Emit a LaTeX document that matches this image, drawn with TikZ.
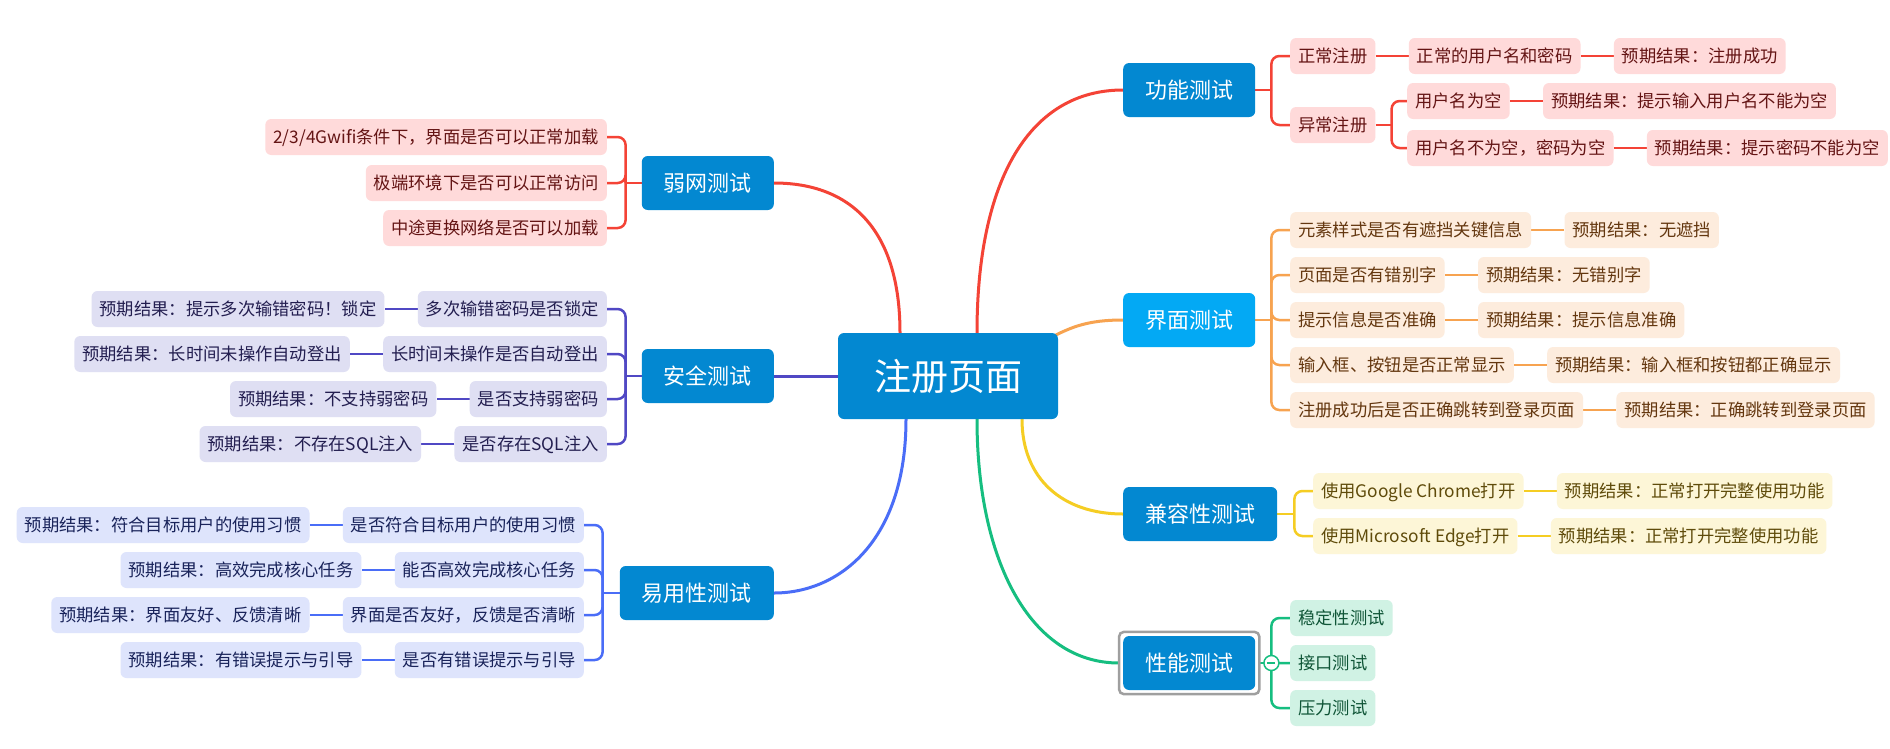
\documentclass[tikz,border=0pt]{standalone}
\usepackage{fontspec}
\setmainfont{Noto Sans CJK SC}
\usetikzlibrary{positioning, backgrounds}
\definecolor{RootBlue}{RGB}{3, 136, 209}
\definecolor{UiBlue}{RGB}{3, 169, 244}
\definecolor{RedLine}{RGB}{244, 67, 54}
\definecolor{RedFill}{RGB}{255, 218, 218}
\definecolor{RedText}{RGB}{100, 20, 20}
\definecolor{OrangeLine}{RGB}{247, 163, 80}
\definecolor{OrangeFill}{RGB}{253, 236, 221}
\definecolor{OrangeText}{RGB}{100, 55, 15}
\definecolor{YellowLine}{RGB}{245, 205, 35}
\definecolor{YellowFill}{RGB}{253, 246, 215}
\definecolor{YellowText}{RGB}{95, 75, 10}
\definecolor{GreenLine}{RGB}{22, 190, 128}
\definecolor{GreenFill}{RGB}{208, 242, 228}
\definecolor{GreenText}{RGB}{15, 85, 55}
\definecolor{BlueLine}{RGB}{74, 109, 247}
\definecolor{BlueFill}{RGB}{222, 228, 252}
\definecolor{BlueText}{RGB}{25, 35, 90}
\definecolor{IndigoLine}{RGB}{80, 72, 196}
\definecolor{IndigoFill}{RGB}{223, 223, 243}
\definecolor{IndigoText}{RGB}{35, 30, 80}

\tikzset{
  box/.style={rounded corners=6pt, inner ysep=0pt},
  root/.style={box, fill=RootBlue, text=white, minimum height=86pt, inner xsep=36pt,
    text height=32.5pt, text depth=4.5pt, font=\fontsize{37}{40}\selectfont},
  topic/.style={box, fill=#1, text=white, minimum height=54pt, inner xsep=22pt,
    text height=19.4pt, text depth=2.6pt, font=\fontsize{22}{26}\selectfont},
  leaf/.style={box, fill=#1Fill, text=#1Text, minimum height=36pt, inner xsep=8pt,
    text height=15.2pt, text depth=2.1pt, font=\fontsize{17.3}{20}\selectfont},
  main/.style={#1Line, line width=3pt},
  link/.style={#1Line, line width=2.5pt, rounded corners=8pt},
  fold/.style={circle, draw=GreenLine, fill=white, line width=1.5pt, minimum size=15pt, inner sep=0pt,
    path picture={\draw[GreenLine, line width=1.2pt] ([xshift=-4pt]path picture bounding box.center) -- ([xshift=4pt]path picture bounding box.center);}}
}

\begin{document}
\begin{tikzpicture}[x=1pt, y=-1pt]
  \useasboundingbox (0,0) rectangle (1890,748);

  % Root
  \node[root] (root) at (948,376) {注册页面};

  % Main topics
  \node[topic=RootBlue, anchor=west] (func) at (1123,90) {功能测试};
  \node[topic=UiBlue, anchor=west] (ui) at (1123,320) {界面测试};
  \node[topic=RootBlue, anchor=west] (compat) at (1123,514) {兼容性测试};
  \node[topic=RootBlue, anchor=west] (perf) at (1123,663) {性能测试};
  \node[topic=RootBlue, anchor=east] (weak) at (774,183) {弱网测试};
  \node[topic=RootBlue, anchor=east] (sec) at (774,376) {安全测试};
  \node[topic=RootBlue, anchor=east] (use) at (774,593) {易用性测试};

  % Selected frame and fold button
  \draw[gray!75, line width=2.5pt, rounded corners=5pt]
    ([shift={(-4pt,4pt)}]perf.north west) rectangle ([shift={(4pt,-4pt)}]perf.south east);
  \node[fold] (pfold) at ([xshift=16pt]perf.east) {};

  % Functional tests
  \node[leaf=Red, anchor=west] (f1) at (1290,56) {正常注册};
  \node[leaf=Red, right=33pt of f1] (f1a) {正常的用户名和密码};
  \node[leaf=Red, right=33pt of f1a] (f1b) {预期结果：注册成功};
  \node[leaf=Red, anchor=west] (f2) at (1290,125) {异常注册};
  \node[leaf=Red, anchor=west] (f21) at (1407,101) {用户名为空};
  \node[leaf=Red, right=33pt of f21] (f21a) {预期结果：提示输入用户名不能为空};
  \node[leaf=Red, anchor=west] (f22) at (1407,148) {用户名不为空，密码为空};
  \node[leaf=Red, right=33pt of f22] (f22a) {预期结果：提示密码不能为空};

  % UI tests
  \foreach \i/\y/\q/\r in {1/230/元素样式是否有遮挡关键信息/预期结果：无遮挡,
                          2/275/页面是否有错别字/预期结果：无错别字,
                          3/320/提示信息是否准确/预期结果：提示信息准确,
                          4/365/输入框、按钮是否正常显示/预期结果：输入框和按钮都正确显示,
                          5/410/注册成功后是否正确跳转到登录页面/预期结果：正确跳转到登录页面} {
    \node[leaf=Orange, anchor=west] (ui\i) at (1290,\y) {\q};
    \node[leaf=Orange, right=33pt of ui\i] (uir\i) {\r};
  }

  % Compatibility tests
  \foreach \i/\y/\q in {1/491/使用Google Chrome打开, 2/536/使用Microsoft Edge打开} {
    \node[leaf=Yellow, anchor=west] (c\i) at (1313,\y) {\q};
    \node[leaf=Yellow, right=33pt of c\i] (cr\i) {预期结果：正常打开完整使用功能};
  }

  % Performance tests
  \foreach \i/\y/\q in {1/618/稳定性测试, 2/663/接口测试, 3/708/压力测试}
    \node[leaf=Green, anchor=west] (p\i) at (1290,\y) {\q};

  % Weak network tests
  \foreach \i/\y/\q in {1/137/{2/3/4Gwifi条件下，界面是否可以正常加载},
                       2/183/极端环境下是否可以正常访问,
                       3/228/中途更换网络是否可以加载}
    \node[leaf=Red, anchor=east] (w\i) at (607,\y) {\q};

  % Security tests
  \foreach \i/\y/\q/\r in {1/309/多次输错密码是否锁定/预期结果：提示多次输错密码！锁定,
                          2/354/长时间未操作是否自动登出/预期结果：长时间未操作自动登出,
                          3/399/是否支持弱密码/预期结果：不支持弱密码,
                          4/444/是否存在SQL注入/预期结果：不存在SQL注入} {
    \node[leaf=Indigo, anchor=east] (s\i) at (607,\y) {\q};
    \node[leaf=Indigo, left=33pt of s\i] (sr\i) {\r};
  }

  % Usability tests
  \foreach \i/\y/\q/\r in {1/525/是否符合目标用户的使用习惯\ /预期结果：符合目标用户的使用习惯,
                          2/570/能否高效完成核心任务/预期结果：高效完成核心任务,
                          3/615/界面是否友好，反馈是否清晰/预期结果：界面友好、反馈清晰,
                          4/660/是否有错误提示与引导/预期结果：有错误提示与引导} {
    \node[leaf=Blue, anchor=east] (u\i) at (584,\y) {\q};
    \node[leaf=Blue, left=33pt of u\i] (ur\i) {\r};
  }

  \begin{pgfonlayer}{background}
    \fill[white] (0,0) rectangle (1890,748);

    % Main branches
    \draw[main=Red] ([xshift=-48pt]root.north) .. controls +(0,-104) and +(76,0) .. (weak.east);
    \draw[main=Red] ([xshift=29pt]root.north) .. controls +(0,-154) and +(-93,0) .. (func.west);
    \draw[main=Orange] ([xshift=-6pt,yshift=-4pt]root.north east) .. controls +(20,-10) and +(-35,0) .. (ui.west);
    \draw[main=Yellow] ([xshift=74pt]root.south) .. controls +(0,60) and +(-60,0) .. (compat.west);
    \draw[main=Green] ([xshift=29pt]root.south) .. controls +(0,141) and +(-89,0) .. ([xshift=-4pt]perf.west);
    \draw[main=Blue] ([xshift=-42pt]root.south) .. controls +(0,121) and +(66,0) .. (use.east);
    \draw[main=Indigo] (root.west) -- (sec.east);

    % Functional links
    \draw[link=Red] (func.east) -- ++(16,0) coordinate (fh);
    \draw[link=Red] (fh) |- (f1.west);
    \draw[link=Red] (fh) |- (f2.west);
    \draw[link=Red] (f1.east) -- (f1a.west);
    \draw[link=Red] (f1a.east) -- (f1b.west);
    \draw[link=Red] (f2.east) -- ++(16,0) coordinate (f2h);
    \draw[link=Red] (f2h) |- (f21.west);
    \draw[link=Red] (f2h) |- (f22.west);
    \draw[link=Red] (f21.east) -- (f21a.west);
    \draw[link=Red] (f22.east) -- (f22a.west);

    % UI links
    \draw[link=Orange] (ui.east) -- ++(16,0) coordinate (uih);
    \foreach \i in {1,...,5} {
      \draw[link=Orange] (uih) |- (ui\i.west);
      \draw[link=Orange] (ui\i.east) -- (uir\i.west);
    }

    % Compatibility links
    \draw[link=Yellow] (compat.east) -- ++(17,0) coordinate (ch);
    \foreach \i in {1,2} {
      \draw[link=Yellow] (ch) |- (c\i.west);
      \draw[link=Yellow] (c\i.east) -- (cr\i.west);
    }

    % Performance links
    \draw[link=Green] ([xshift=4pt]perf.east) -- (pfold.center);
    \foreach \i in {1,2,3}
      \draw[link=Green] (pfold.center) |- (p\i.west);

    % Weak network links
    \draw[link=Red] (weak.west) -- ++(-16,0) coordinate (wh);
    \foreach \i in {1,2,3}
      \draw[link=Red] (wh) |- (w\i.east);

    % Security links
    \draw[link=Indigo] (sec.west) -- ++(-16,0) coordinate (sh);
    \foreach \i in {1,...,4} {
      \draw[link=Indigo] (sh) |- (s\i.east);
      \draw[link=Indigo] (s\i.west) -- (sr\i.east);
    }

    % Usability links
    \draw[link=Blue] (use.west) -- ++(-17,0) coordinate (uh);
    \foreach \i in {1,...,4} {
      \draw[link=Blue] (uh) |- (u\i.east);
      \draw[link=Blue] (u\i.west) -- (ur\i.east);
    }
  \end{pgfonlayer}
\end{tikzpicture}
\end{document}
